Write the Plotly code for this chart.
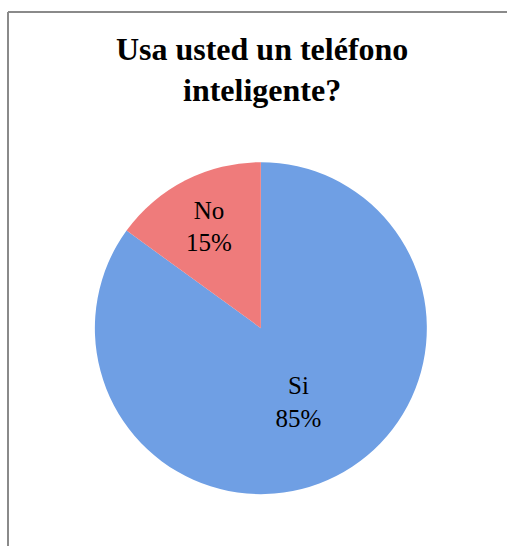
import plotly.graph_objects as go

labels = ["Si", "No"]
values = [85, 15]
colors = ["#6f9fe4", "#ef7b7b"]
title_text = "Usa usted un teléfono<br>inteligente?"

fig = go.Figure(go.Pie(
    labels=labels,
    values=values,
    sort=False,
    direction="clockwise",
    rotation=0,
    marker=dict(colors=colors, line=dict(width=0)),
    texttemplate="%{label}<br>%{percent:.0%}",
    textposition="inside",
    insidetextorientation="horizontal",
    textfont=dict(family="Liberation Serif", size=25, color="#000000"),
    domain=dict(x=[0.187, 0.842], y=[0.095, 0.703]),
    showlegend=False,
))

fig.update_layout(
    width=507, height=546,
    margin=dict(l=0, r=0, t=0, b=0),
    paper_bgcolor="white",
    title=dict(text=title_text, x=0.517, xanchor="center", y=0.891, yanchor="top",
               font=dict(family="Liberation Serif", size=32, color="#000000", weight="bold")),
    shapes=[
        dict(type="line", xref="paper", yref="paper", x0=8/507, x1=1, y0=1-12/546, y1=1-12/546,
             line=dict(color="#8a8a8a", width=2)),
        dict(type="line", xref="paper", yref="paper", x0=8/507, x1=8/507, y0=0, y1=1-12/546,
             line=dict(color="#8a8a8a", width=2)),
    ],
)

fig.write_html("out.html", config={"displayModeBar": False},
               post_script="document.body.style.margin='0';document.body.style.overflow='hidden';")
